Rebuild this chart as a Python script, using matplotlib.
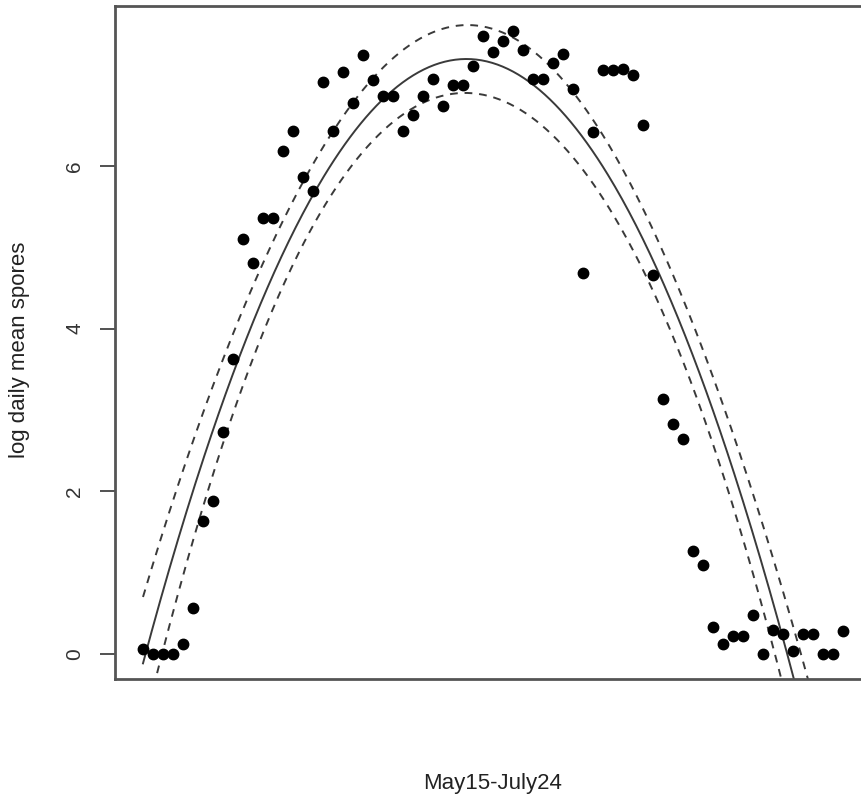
import numpy as np
import matplotlib
matplotlib.use("Agg")
import matplotlib.pyplot as plt

# log daily mean spore counts, one value per day from May 15 to July 24
days = np.arange(1, 72)
log_spores = [
    0.06, 0.00, 0.00, 0.00, 0.12, 0.57, 1.64, 1.88, 2.73, 3.63,
    5.10, 4.81, 5.36, 5.36, 6.19, 6.43, 5.87, 5.69, 7.03, 6.43,
    7.15, 6.78, 7.36, 7.06, 6.86, 6.86, 6.43, 6.63, 6.86, 7.07,
    6.74, 7.00, 7.00, 7.23, 7.60, 7.40, 7.54, 7.66, 7.42, 7.07,
    7.07, 7.26, 7.38, 6.95, 4.69, 6.42, 7.18, 7.18, 7.19, 7.12,
    6.50, 4.66, 3.13, 2.83, 2.64, 1.27, 1.10, 0.33, 0.12, 0.22,
    0.22, 0.48, 0.00, 0.29, 0.25, 0.04, 0.25, 0.25, 0.00, 0.00,
    0.28,
]
y = np.array(log_spores)

# quadratic fit with 95% confidence band for the mean
X = np.column_stack([np.ones_like(days, dtype=float), days, days ** 2])
beta, res, rank, sv = np.linalg.lstsq(X, y, rcond=None)
resid = y - X @ beta
dof = len(y) - X.shape[1]
sigma2 = resid @ resid / dof
cov = sigma2 * np.linalg.inv(X.T @ X)
t975 = 1.995

xs = np.linspace(1, 71, 400)
Xs = np.column_stack([np.ones_like(xs), xs, xs ** 2])
fit = Xs @ beta
se = np.sqrt(np.einsum("ij,jk,ik->i", Xs, cov, Xs))
lower = fit - t975 * se
upper = fit + t975 * se

plt.rcParams["font.family"] = ["Liberation Sans", "DejaVu Sans"]

fig = plt.figure(figsize=(8.61, 7.99), dpi=100)
ax = fig.add_axes([115 / 861, 120 / 799, 756 / 861, 673 / 799])

line_col = "#3a3a3a"
ax.plot(xs, fit, color=line_col, lw=1.4)
ax.plot(xs, upper, color=line_col, lw=1.4, linestyle=(0, (4, 3.5)))
ax.plot(xs, lower, color=line_col, lw=1.4, linestyle=(0, (4, 3.5)))
ax.plot(days, y, "o", color="black", ms=7.5, mec="black")

span_x = days.max() - days.min()
ax.set_xlim(days.min() - 0.04 * span_x, days.max() + 0.04 * span_x)
span_y = y.max() - y.min()
ax.set_ylim(y.min() - 0.04 * span_y, y.max() + 0.04 * span_y)

ax.set_xticks([])
ax.set_yticks([0, 2, 4, 6])
ax.set_yticklabels(["0", "2", "4", "6"], rotation=90, va="center",
                   fontsize=15, color="#333333")
ax.tick_params(axis="y", length=11, width=1.2, color="#333333", pad=11)

for s in ax.spines.values():
    s.set_color("#555555")
    s.set_linewidth(2)

ax.set_xlabel("May15-July24", fontsize=16, color="#222222", va="center")
ax.set_ylabel("log daily mean spores", fontsize=16, color="#222222", va="center")
ax.xaxis.set_label_coords(493 / 861, 1 - 783 / 799, transform=fig.transFigure)
ax.yaxis.set_label_coords(20 / 861, 1 - 350 / 799, transform=fig.transFigure)

fig.savefig("out.png", dpi=100)
